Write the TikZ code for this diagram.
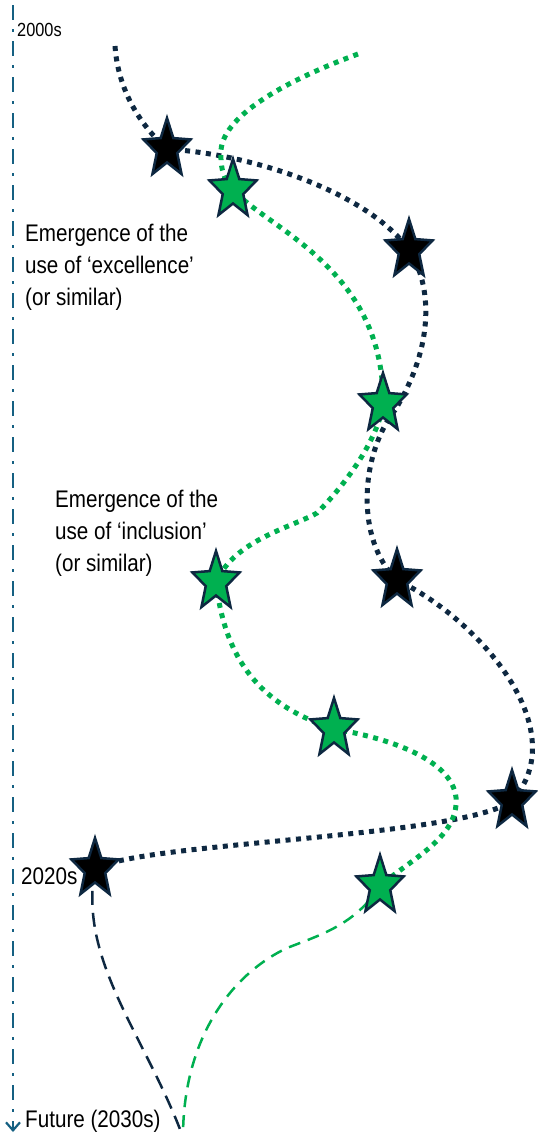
\documentclass[tikz,border=0pt]{standalone}
\usepackage{fontspec}
\setmainfont{Liberation Sans}[FakeStretch=0.86]
\usetikzlibrary{shapes.geometric,arrows.meta,backgrounds}
\definecolor{navy}{HTML}{0E2841}
\definecolor{axisblue}{HTML}{156082}
\definecolor{grn}{HTML}{00B050}
\tikzset{
  starb/.style={star, star points=5, star point ratio=2.3, minimum size=62pt, inner sep=0pt,
    draw=navy, line width=2.5pt, fill=black, xscale=0.8, transform shape},
  starg/.style={starb, fill=grn},
  blackdot/.style={draw=navy, line width=5pt, dash pattern=on 5pt off 5.5pt},
  greendot/.style={draw=grn, line width=5pt, dash pattern=on 5pt off 5.5pt},
  blackdash/.style={draw=navy, line width=2.5pt, dash pattern=on 14pt off 8pt},
  greendash/.style={draw=grn, line width=2.5pt, dash pattern=on 12pt off 8pt},
  axisline/.style={draw=axisblue, line width=2.5pt, dash pattern=on 15pt off 9pt on 3pt off 9pt},
  lbl/.style={inner sep=0pt, text=black, font=\fontsize{24}{32}\selectfont, align=left},
}
\begin{document}
\begin{tikzpicture}[x=1pt,y=-1pt]
\useasboundingbox (0,0) rectangle (538,1135);
% stars
\node[starb] (b1) at (167,149) {};
\node[starb] (b2) at (409,250) {};
\node[starb] (b3) at (397,580) {};
\node[starb] (b4) at (512,801) {};
\node[starb] (b5) at (95,869) {};
\node[starg] (g1) at (233,190) {};
\node[starg] (g2) at (383,404) {};
\node[starg] (g3) at (216,582) {};
\node[starg] (g4) at (334,729) {};
\node[starg] (g5) at (380,886) {};
% free ends
\coordinate (bs) at (115,46);
\coordinate (gs) at (358,54);
\coordinate (fe) at (183,1137);
\coordinate (ax0) at (13,5);
\coordinate (ax1) at (13,1132);
% labels
\node[lbl, anchor=west, font=\fontsize{19}{22}\selectfont] (t2000) at (17,30) {2000s};
\node[lbl, anchor=north west] (exc) at (25,224) {Emergence of the\\use of ‘excellence’\\(or similar)};
\node[lbl, anchor=north west] (inc) at (55,490) {Emergence of the\\use of ‘inclusion’\\(or similar)};
\node[lbl, anchor=west] (t2020) at (21,876) {2020s};
\node[lbl, anchor=west] (tfut) at (25,1121) {Future (2030s)};
\begin{scope}[on background layer]
  \draw[axisline, -{Straight Barb[length=8pt,width=14pt,line width=2.2pt]}] (ax0) -- (ax1);
  % black path
  \draw[blackdot] (bs) .. controls (118,90) and (140,125) .. (b1.center)
    .. controls (260,155) and (370,195) .. (b2.center)
    .. controls (432,285) and (435,345) .. (395,410)
    .. controls (360,455) and (355,540) .. (b3.center)
    .. controls (480,620) and (575,730) .. (b4.center)
    .. controls (460,838) and (140,842) .. (b5.center);
  \draw[blackdash] (b5.center) .. controls (78,960) and (145,1035) .. (fe);
  % green path
  \draw[greendot] (gs) .. controls (290,79) and (224,114) .. (221,150)
    .. controls (220,170) and (225,182) .. (g1.center)
    .. controls (270,230) and (385,270) .. (g2.center)
    .. controls (378,440) and (345,485) .. (317,513)
    .. controls (290,528) and (235,540) .. (g3.center)
    .. controls (225,660) and (260,705) .. (g4.center)
    .. controls (400,740) and (460,765) .. (456,805)
    .. controls (453,840) and (410,860) .. (g5.center);
  \draw[greendash] (g5.center) .. controls (355,925) and (320,935) .. (287,948)
    .. controls (230,975) and (183,1040) .. (fe);
\end{scope}
\end{tikzpicture}
\end{document}
